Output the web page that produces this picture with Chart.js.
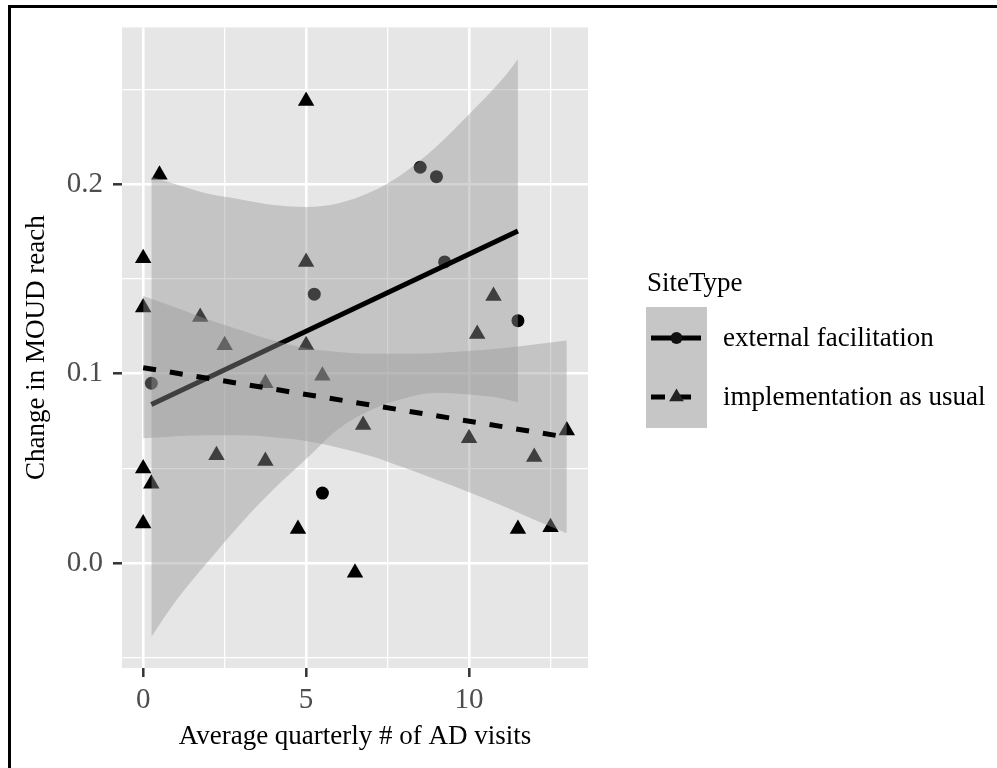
<!DOCTYPE html>
<html>
<head>
<meta charset="utf-8">
<script src="https://cdn.jsdelivr.net/npm/chart.js@4.4.0/dist/chart.umd.min.js"></script>
<style>
  html, body { margin: 0; padding: 0; background: #fff; }
  #wrap { position: relative; width: 997px; height: 768px; }
  #chart { display: block; }
  #frame { position: absolute; left: 8px; top: 5px; right: 0; bottom: 0;
           border-top: 3px solid #000; border-left: 3px solid #000; pointer-events: none; }
</style>
</head>
<body>
<div id="wrap">
  <canvas id="chart" width="997" height="768"></canvas>
  <div id="frame"></div>
</div>
<script>
// external facilitation sites (circles)
var extX = [0.25, 5.25, 5.5, 8.5, 9.0, 9.25, 11.5];
var extY = [0.095, 0.142, 0.037, 0.209, 0.204, 0.159, 0.128];

// implementation as usual sites (triangles)
var iauX = [0, 0, 0.5, 5, 1.75, 5, 2.5, 5, 3.75, 5.5, 2.25, 3.75, 0, 0.25, 0,
            4.75, 6.5, 6.75, 10, 12, 13, 11.5, 12.5, 10.75, 10.25];
var iauY = [0.161, 0.135, 0.205, 0.244, 0.130, 0.159, 0.115, 0.115, 0.095, 0.099, 0.057, 0.054, 0.050, 0.042, 0.021,
            0.018, -0.005, 0.073, 0.066, 0.056, 0.070, 0.018, 0.019, 0.141, 0.121];

// fitted lines (end points)
var extFitX = [0.25, 11.5];
var extFitY = [0.0838, 0.1754];
var iauFitX = [0, 13];
var iauFitY = [0.1032, 0.0665];

// confidence bands
var extBandX = [0.25, 1, 2, 3, 4, 5, 6, 7, 8, 9, 10, 11, 11.5];
var extLower = [-0.039, -0.020, 0.001, 0.021, 0.039, 0.055, 0.071, 0.081, 0.087, 0.090, 0.089, 0.087, 0.085];
var extUpper = [0.204, 0.200, 0.195, 0.192, 0.189, 0.188, 0.190, 0.196, 0.206, 0.220, 0.237, 0.255, 0.266];
var iauBandX = [0, 1, 2, 3, 4, 5, 6, 7, 8, 9, 10, 11, 12, 13];
var iauLower = [0.066, 0.067, 0.0675, 0.0675, 0.0665, 0.0645, 0.061, 0.0565, 0.0505, 0.044, 0.0375, 0.0305, 0.023, 0.0158];
var iauUpper = [0.141, 0.135, 0.1285, 0.123, 0.1175, 0.1135, 0.1115, 0.1105, 0.1105, 0.111, 0.112, 0.1135, 0.1155, 0.1175];

// axes
var xTickVals = [0, 2.5, 5, 7.5, 10, 12.5];
var xTickText = ['0', '', '5', '', '10', ''];
var yTickVals = [-0.05, 0, 0.05, 0.1, 0.15, 0.2, 0.25];
var yTickText = ['', '0.0', '', '0.1', '', '0.2', ''];

var seriesNames = ['external facilitation', 'implementation as usual'];
var legendTitle = 'SiteType';

var SERIF = '"Liberation Serif", "Times New Roman", serif';
var BAND = 'rgba(150,150,150,0.42)';

function pts(xs, ys) {
    return xs.map(function(x, i) { return {x: x, y: ys[i]}; });
}

function bandSet(xs, ys, fill, order) {
    return {
        type: 'line', data: pts(xs, ys), order: order,
        borderWidth: 0, borderColor: 'rgba(0,0,0,0)', pointRadius: 0,
        backgroundColor: BAND, fill: fill, cubicInterpolationMode: 'monotone'
    };
}

var panelBg = {
    id: 'panelBg',
    beforeDraw: function(chart) {
        var a = chart.chartArea, ctx = chart.ctx;
        ctx.save();
        ctx.fillStyle = '#E6E6E6';
        ctx.fillRect(a.left, a.top, a.right - a.left, a.bottom - a.top);
        ctx.restore();
    }
};

function triangle(ctx, x, y, r) {
    ctx.beginPath();
    ctx.moveTo(x, y - r);
    ctx.lineTo(x + r * 0.866, y + r / 2);
    ctx.lineTo(x - r * 0.866, y + r / 2);
    ctx.closePath();
    ctx.fill();
}

// ggplot-like legend on the right
var siteLegend = {
    id: 'siteLegend',
    afterDraw: function(chart) {
        var ctx = chart.ctx;
        ctx.save();
        ctx.font = '27px ' + SERIF;
        ctx.textBaseline = 'alphabetic';
        ctx.fillStyle = '#000';
        ctx.fillText(legendTitle, 647, 291);

        ctx.fillStyle = '#C6C6C6';
        ctx.fillRect(646, 307, 61, 121);

        // key 1: solid + circle
        ctx.strokeStyle = '#000';
        ctx.lineWidth = 5;
        ctx.beginPath();
        ctx.moveTo(651, 338); ctx.lineTo(701, 338);
        ctx.stroke();
        ctx.fillStyle = '#111';
        ctx.beginPath();
        ctx.arc(676.5, 338, 6, 0, Math.PI * 2);
        ctx.fill();

        // key 2: dashed + triangle
        ctx.setLineDash([14, 12]);
        ctx.beginPath();
        ctx.moveTo(651, 397); ctx.lineTo(701, 397);
        ctx.stroke();
        ctx.setLineDash([]);
        ctx.fillStyle = '#222';
        triangle(ctx, 676.5, 397, 8.5);

        ctx.fillStyle = '#000';
        ctx.fillText(seriesNames[0], 723, 346);
        ctx.fillText(seriesNames[1], 723, 405);
        ctx.restore();
    }
};

function gridWidth(text) {
    return function(c) { return text[c.index] ? 2.6 : 1.3; };
}
function tickCol(text) {
    return function(c) { return text[c.index] ? '#333333' : 'rgba(0,0,0,0)'; };
}

var ctx = document.getElementById('chart').getContext('2d');
new Chart(ctx, {
    type: 'scatter',
    data: {
        datasets: [
            { type: 'line', data: pts(iauFitX, iauFitY), order: 0, borderColor: '#000', borderWidth: 5,
              borderDash: [13, 14], pointRadius: 0, fill: false, tension: 0 },
            bandSet(iauBandX, iauUpper, '+1', 1),
            bandSet(iauBandX, iauLower, false, 1),
            { type: 'line', data: pts(extFitX, extFitY), order: 2, borderColor: '#000', borderWidth: 5,
              pointRadius: 0, fill: false, tension: 0 },
            bandSet(extBandX, extUpper, '+1', 3),
            bandSet(extBandX, extLower, false, 3),
            { label: seriesNames[0], data: pts(extX, extY), order: 4, pointStyle: 'circle',
              pointRadius: 6.5, pointBackgroundColor: '#000', pointBorderWidth: 0, borderColor: '#000' },
            { label: seriesNames[1], data: pts(iauX, iauY), order: 4, pointStyle: 'triangle',
              pointRadius: 9.5, pointBackgroundColor: '#000', pointBorderWidth: 0, borderColor: '#000' }
        ]
    },
    options: {
        responsive: false,
        animation: false,
        devicePixelRatio: 1,
        layout: { padding: { top: 26, right: 409, bottom: 0, left: 0 } },
        plugins: { legend: { display: false }, tooltip: { enabled: false } },
        scales: {
            x: {
                type: 'linear', min: -0.65, max: 13.65,
                afterBuildTicks: function(s) { s.ticks = xTickVals.map(function(v) { return {value: v}; }); },
                afterFit: function(s) { s.height = 100; },
                border: { display: false },
                grid: { color: '#FFFFFF', lineWidth: gridWidth(xTickText), tickLength: 9,
                        tickColor: tickCol(xTickText), tickWidth: 2.5 },
                ticks: { autoSkip: false, maxRotation: 0, padding: 6, color: '#4D4D4D',
                         font: { family: SERIF, size: 29 },
                         callback: function(v, i) { return xTickText[i]; } },
                title: { display: true, text: 'Average quarterly # of AD visits', color: '#000',
                         font: { family: SERIF, size: 27 }, padding: { top: 0, bottom: 15 } }
            },
            y: {
                type: 'linear', min: -0.0553, max: 0.2828,
                afterBuildTicks: function(s) { s.ticks = yTickVals.map(function(v) { return {value: v}; }); },
                afterFit: function(s) { s.width = 122; },
                border: { display: false },
                grid: { color: '#FFFFFF', lineWidth: gridWidth(yTickText), tickLength: 9,
                        tickColor: tickCol(yTickText), tickWidth: 2.5 },
                ticks: { autoSkip: false, padding: 10, color: '#4D4D4D',
                         font: { family: SERIF, size: 29 },
                         callback: function(v, i) { return yTickText[i]; } },
                title: { display: true, text: 'Change in MOUD reach', color: '#000',
                         font: { family: SERIF, size: 27 }, padding: { top: 21, bottom: 0 } }
            }
        }
    },
    plugins: [panelBg, siteLegend]
});
</script>
</body>
</html>
